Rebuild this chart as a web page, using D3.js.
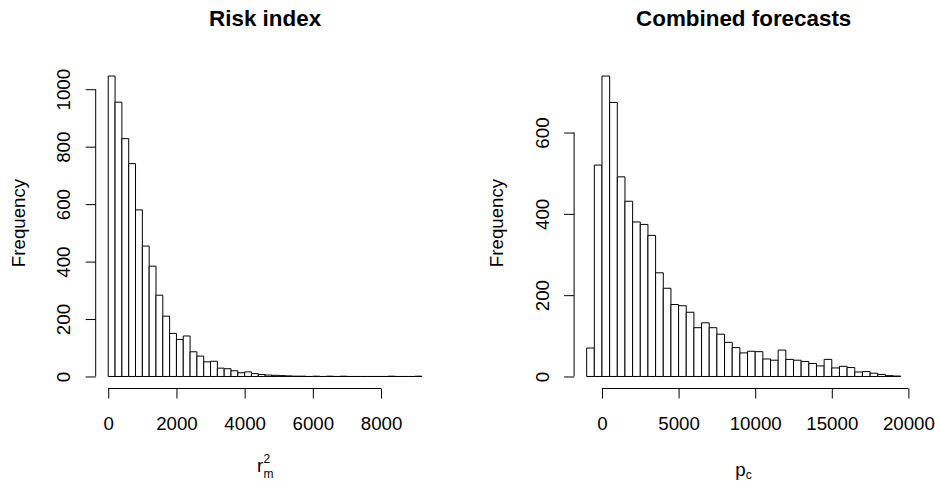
<!DOCTYPE html>
<html>
<head>
<meta charset="utf-8">
<script src="https://cdn.jsdelivr.net/npm/d3@7"></script>
<style>
  body { margin: 0; background: #fff; }
  svg { font-family: "Liberation Sans", Arial, Helvetica, sans-serif; }
</style>
</head>
<body>
<script>
var width = 935;
var height = 481;

// Risk index: bins of 200 starting at 0
var riskStart = 0;
var riskBinWidth = 200;
var riskCounts = [1046, 955, 828, 741, 580, 454, 384, 283, 210, 150,
                  129, 141, 86, 71, 51, 53, 29, 27, 20, 13,
                  16, 10, 7, 5, 4, 3, 2, 1, 1, 0,
                  1, 0, 1, 0, 1, 0, 0, 0, 0, 0,
                  0, 1, 0, 0, 0, 1];
var riskXTicks = [0, 2000, 4000, 6000, 8000];
var riskYTicks = [0, 200, 400, 600, 800, 1000];

// Combined forecasts: bins of 500 starting at -1000
var fcStart = -1000;
var fcBinWidth = 500;
var fcCounts = [70, 520, 739, 674, 491, 431, 380, 374, 347, 255,
                217, 177, 174, 158, 120, 132, 120, 104, 84, 71,
                58, 62, 61, 43, 40, 65, 42, 40, 37, 32,
                26, 42, 21, 25, 22, 11, 12, 8, 5, 2,
                1];
var fcXTicks = [0, 5000, 10000, 15000, 20000];
var fcYTicks = [0, 200, 400, 600];

var svg = d3.select("body").append("svg")
  .attr("width", width)
  .attr("height", height);

var plotTop = 64;
var plotBottom = 388.5;
var tickLen = 10;
var fontSize = 18.7;

function drawHist(opts) {
  var n = opts.counts.length;
  var bins = opts.counts.map((c, i) => ({
    x0: opts.start + i * opts.binWidth,
    x1: opts.start + (i + 1) * opts.binWidth,
    count: c
  }));
  var lo = bins[0].x0, hi = bins[n - 1].x1;
  var pad = (hi - lo) * 0.04;
  var ymax = d3.max(opts.counts);

  var x = d3.scaleLinear()
    .domain([lo - pad, hi + pad])
    .range([opts.left, opts.right]);
  var y = d3.scaleLinear()
    .domain([-ymax * 0.04, ymax * 1.04])
    .range([plotBottom, plotTop]);

  var g = svg.append("g");

  // bars as closed paths so that empty bins still show on the baseline
  g.selectAll("path.bar")
    .data(bins)
    .enter()
      .append("path")
      .attr("class", "bar")
      .attr("d", d => "M" + x(d.x0) + "," + y(0) +
                      "V" + y(d.count) + "H" + x(d.x1) +
                      "V" + y(0) + "Z")
      .attr("fill", "#fff")
      .attr("stroke", "#000")
      .attr("stroke-width", 1);

  // x axis, R style: line only from first to last tick
  var xAxis = d3.axisBottom(x)
    .tickValues(opts.xTicks)
    .tickSize(tickLen)
    .tickFormat(d3.format("d"));
  var xg = g.append("g")
    .attr("transform", "translate(0," + plotBottom + ")")
    .call(xAxis);
  xg.select(".domain").remove();
  xg.append("line")
    .attr("x1", x(opts.xTicks[0]))
    .attr("x2", x(opts.xTicks[opts.xTicks.length - 1]))
    .attr("stroke", "#000");
  xg.selectAll(".tick line").attr("stroke", "#000");
  xg.selectAll(".tick text")
    .attr("y", 430 - plotBottom)
    .attr("dy", 0)
    .attr("fill", "#000")
    .style("font-size", fontSize + "px")
    .style("font-family", "inherit");

  // y axis
  var yAxis = d3.axisLeft(y)
    .tickValues(opts.yTicks)
    .tickSize(tickLen)
    .tickFormat(d3.format("d"));
  var yg = g.append("g")
    .attr("transform", "translate(" + opts.left + ",0)")
    .call(yAxis);
  yg.select(".domain").remove();
  yg.append("line")
    .attr("y1", y(opts.yTicks[0]))
    .attr("y2", y(opts.yTicks[opts.yTicks.length - 1]))
    .attr("stroke", "#000");
  yg.selectAll(".tick line").attr("stroke", "#000");
  yg.selectAll(".tick text")
    .attr("transform", "rotate(-90)")
    .attr("x", 0)
    .attr("y", -25.3)
    .attr("dy", 0)
    .attr("text-anchor", "middle")
    .attr("fill", "#000")
    .style("font-size", fontSize + "px")
    .style("font-family", "inherit");

  var cx = (opts.left + opts.right) / 2;

  // title
  g.append("text")
    .attr("x", cx)
    .attr("y", 26)
    .attr("text-anchor", "middle")
    .style("font-size", "22.4px")
    .style("font-weight", "bold")
    .text(opts.title);

  // y label
  g.append("text")
    .attr("transform", "translate(" + (opts.left - 71) + "," + 223 + ") rotate(-90)")
    .attr("text-anchor", "middle")
    .style("font-size", fontSize + "px")
    .text("Frequency");

  opts.xlab(g, cx);
}

drawHist({
  title: "Risk index",
  start: riskStart,
  binWidth: riskBinWidth,
  counts: riskCounts,
  xTicks: riskXTicks,
  yTicks: riskYTicks,
  left: 95.7,
  right: 434.5,
  xlab: function(g, cx) {
    var t = g.append("g").attr("transform", "translate(" + (cx - 8) + ",0)");
    t.append("text").attr("x", 0).attr("y", 471.5)
      .style("font-size", fontSize + "px").text("r");
    t.append("text").attr("x", 6.5).attr("y", 462.5)
      .style("font-size", "12px").text("2");
    t.append("text").attr("x", 6.5).attr("y", 478.3)
      .style("font-size", "12px").text("m");
  }
});

drawHist({
  title: "Combined forecasts",
  start: fcStart,
  binWidth: fcBinWidth,
  counts: fcCounts,
  xTicks: fcXTicks,
  yTicks: fcYTicks,
  left: 574.1,
  right: 913.3,
  xlab: function(g, cx) {
    var t = g.append("g").attr("transform", "translate(" + (cx - 8.5) + ",0)");
    t.append("text").attr("x", 0).attr("y", 475.5)
      .style("font-size", fontSize + "px").text("p");
    t.append("text").attr("x", 10.5).attr("y", 478.5)
      .style("font-size", "12px").text("c");
  }
});
</script>
</body>
</html>
